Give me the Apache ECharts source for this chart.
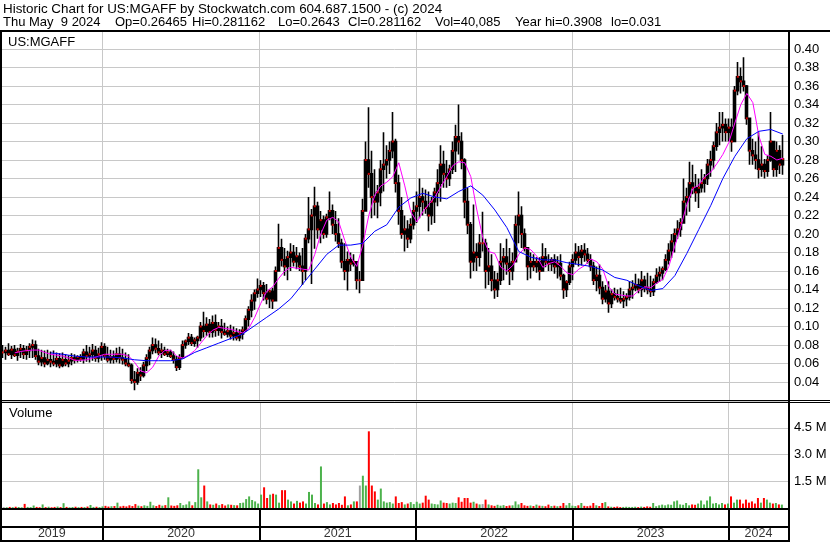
<!DOCTYPE html>
<html><head><meta charset="utf-8">
<script src="https://cdn.jsdelivr.net/npm/echarts@6/dist/echarts.min.js"></script>
<style>html,body{margin:0;padding:0;background:#fff}#c{width:830px;height:543px}</style>
</head><body><div id="c"></div>
<script>
// ---------- data (weekly bars) ----------
const firstWeek = [2019, 4, 13];          // first weekly bar (UTC y, m0, d)
const axisStart = [2019, 4, 9];
const axisEnd = [2024, 4, 18];
const hi = [
.080,.078,.082,.079,.080,.077,.081,.080,.079,.082,
.086,.085,.076,.075,.074,.075,.073,.074,.072,.071,
.072,.070,.069,.071,.070,.069,.070,.076,.080,.078,
.081,.079,.077,.083,.082,.078,.075,.074,.077,.078,
.076,.072,.070,.060,.052,.055,.056,.062,.070,.078,
.088,.087,.085,.082,.078,.076,.075,.073,.068,.070,
.085,.086,.093,.092,.088,.090,.105,.116,.110,.108,
.112,.113,.105,.108,.104,.100,.102,.100,.098,.097,
.100,.112,.122,.135,.140,.152,.150,.148,.146,.140,
.142,.165,.211,.195,.185,.182,.190,.188,.186,.180,
.185,.200,.240,.227,.251,.235,.225,.220,.222,.246,
.232,.225,.217,.195,.190,.181,.180,.178,.167,.160,
.238,.300,.337,.290,.270,.253,.280,.310,.296,.300,
.332,.303,.264,.240,.220,.215,.217,.235,.246,.260,
.250,.248,.246,.240,.250,.270,.296,.290,.280,.275,
.300,.318,.340,.310,.282,.250,.213,.232,.190,.200,
.224,.195,.185,.178,.160,.158,.190,.185,.195,.185,
.180,.220,.246,.230,.206,.181,.180,.178,.175,.175,
.190,.185,.178,.175,.178,.176,.178,.157,.150,.170,
.178,.190,.187,.188,.190,.185,.178,.170,.165,.167,
.149,.145,.149,.140,.142,.140,.142,.138,.136,.149,
.150,.157,.152,.160,.155,.158,.155,.152,.163,.165,
.165,.178,.190,.200,.206,.215,.217,.260,.250,.278,
.275,.265,.260,.270,.265,.281,.290,.300,.320,.332,
.332,.325,.325,.325,.360,.386,.380,.391,.361,.314,
.303,.300,.310,.295,.281,.285,.332,.290,.300,.296,.307];
const lo = [
.066,.064,.068,.065,.067,.063,.066,.065,.064,.066,
.066,.064,.058,.057,.056,.058,.056,.057,.056,.055,
.056,.057,.056,.058,.060,.061,.062,.060,.062,.061,
.063,.062,.061,.063,.064,.061,.060,.060,.061,.060,
.059,.057,.056,.038,.031,.037,.041,.045,.052,.058,
.070,.071,.069,.066,.068,.067,.066,.060,.052,.053,
.066,.076,.080,.079,.078,.077,.084,.088,.090,.088,
.088,.089,.090,.087,.090,.088,.086,.085,.085,.084,
.086,.094,.100,.110,.118,.131,.132,.128,.124,.120,
.119,.135,.160,.165,.155,.150,.160,.165,.162,.160,
.145,.150,.190,.146,.184,.195,.190,.195,.196,.215,
.200,.192,.185,.163,.150,.139,.160,.165,.140,.136,
.160,.230,.250,.217,.220,.217,.230,.246,.260,.265,
.282,.245,.210,.195,.181,.185,.190,.205,.212,.217,
.220,.222,.203,.210,.212,.230,.235,.250,.250,.252,
.265,.267,.286,.270,.217,.200,.152,.160,.160,.165,
.181,.141,.145,.138,.130,.132,.145,.150,.156,.145,
.150,.181,.190,.185,.181,.150,.152,.160,.158,.150,
.163,.164,.160,.160,.157,.152,.150,.130,.132,.145,
.150,.167,.165,.166,.170,.168,.160,.145,.138,.135,
.124,.126,.115,.120,.128,.126,.125,.120,.122,.128,
.130,.138,.136,.132,.137,.135,.132,.133,.146,.148,
.150,.160,.167,.174,.180,.195,.197,.217,.220,.224,
.243,.235,.228,.245,.245,.253,.262,.270,.290,.296,
.300,.300,.300,.289,.300,.350,.352,.354,.318,.275,
.275,.270,.260,.262,.260,.262,.278,.262,.262,.265,.264];
const cl = [
.072,.074,.070,.075,.069,.073,.076,.070,.074,.078,
.080,.068,.062,.066,.060,.064,.062,.060,.065,.058,
.064,.060,.063,.066,.064,.067,.065,.072,.068,.070,
.074,.066,.070,.078,.068,.064,.067,.065,.070,.066,
.064,.060,.058,.042,.040,.050,.047,.058,.066,.074,
.080,.076,.072,.074,.070,.072,.068,.064,.056,.066,
.080,.084,.088,.082,.085,.088,.100,.095,.102,.094,
.104,.096,.100,.094,.092,.095,.090,.093,.088,.092,
.096,.108,.118,.128,.136,.140,.144,.136,.130,.138,
.128,.160,.185,.172,.165,.175,.180,.170,.176,.165,
.160,.195,.205,.220,.230,.205,.215,.200,.218,.225,
.210,.200,.190,.170,.160,.172,.168,.170,.150,.150,
.225,.280,.265,.240,.235,.245,.270,.275,.280,.290,
.300,.255,.225,.200,.205,.195,.210,.225,.230,.240,
.235,.228,.220,.235,.245,.255,.275,.265,.260,.270,
.290,.305,.300,.280,.235,.210,.170,.180,.175,.190,
.190,.160,.165,.150,.140,.150,.170,.175,.168,.160,
.170,.210,.220,.200,.185,.165,.170,.165,.170,.160,
.175,.170,.168,.172,.165,.168,.155,.140,.148,.165,
.172,.180,.175,.182,.178,.172,.165,.150,.155,.142,
.130,.138,.125,.135,.132,.130,.128,.130,.132,.140,
.142,.145,.140,.150,.142,.140,.138,.148,.155,.158,
.162,.172,.182,.192,.200,.205,.212,.235,.240,.255,
.250,.245,.250,.255,.260,.275,.280,.295,.310,.315,
.318,.310,.315,.300,.355,.370,.365,.360,.325,.290,
.285,.280,.270,.275,.268,.280,.300,.270,.290,.275,.281];
// volume, thousands of shares (largest daily bar visible in each week)
const volK = [
50,40,60,45,70,55,40,230,60,50,
140,60,45,200,50,70,40,60,80,50,
270,60,40,55,70,45,60,50,80,170,
60,70,50,90,120,80,100,110,300,90,
120,90,150,110,220,130,100,150,120,350,
150,110,180,130,160,600,140,120,150,280,
160,200,370,150,330,2170,600,1260,370,200,
180,250,160,220,140,200,180,160,150,280,
300,500,650,450,370,250,750,1160,560,750,
800,750,300,1000,1000,470,370,250,400,300,
370,250,900,750,280,200,2330,250,330,200,
280,200,280,180,650,150,200,370,370,1260,
1810,1260,4300,1260,930,470,1090,370,300,330,
250,650,280,330,200,250,330,220,350,250,
300,690,470,250,220,200,420,300,280,250,
300,280,600,350,560,560,300,350,250,200,
220,470,200,150,120,180,130,160,110,140,
150,370,200,280,150,120,140,110,190,130,
120,100,190,110,130,100,120,280,150,280,
130,110,150,280,120,100,130,280,150,110,
280,330,90,70,60,80,50,60,70,60,
60,70,50,80,60,90,70,280,100,150,
190,150,200,180,370,420,200,180,280,150,
200,180,250,420,200,420,650,250,280,200,
280,200,250,650,300,470,470,250,470,300,
370,250,560,300,560,470,300,250,280,200,190];
// magenta average, every 2nd week starting at week 4
const maFast = [
.0715,.073,.074,.0745,.0745,.072,.070,.069,.068,.066,
.0635,.0635,.064,.066,.068,.070,.070,.070,.070,.068,
.061,.052,.050,.056,.068,.074,.0745,.068,.066,.069,
.074,.082,.090,.096,.099,.098,.097,.095,.093,.098,
.110,.125,.138,.143,.152,.160,.164,.163,.162,.161,
.178,.200,.215,.218,.213,.193,.175,.165,.188,.220,
.242,.252,.256,.262,.277,.252,.224,.213,.224,.232,
.240,.251,.262,.274,.278,.277,.262,.226,.196,.181,
.179,.164,.160,.166,.178,.185,.183,.176,.164,.168,
.170,.165,.158,.156,.162,.166,.173,.170,.162,.143,
.135,.134,.133,.133,.139,.143,.142,.147,.151,.165,
.187,.208,.232,.249,.253,.262,.267,.276,.286,.299,
.320,.340,.352,.342,.306,.286,.284,.280,.282];
const maFastStart = 4, maFastStep = 2;
// blue average, every 4th week starting at week 16
const maSlow = [
.0715,.070,.068,.067,.067,.067,.066,.064,.063,.063,
.063,.065,.072,.077,.082,.087,.092,.101,.110,.119,
.130,.146,.162,.178,.188,.188,.190,.203,.210,.229,
.239,.244,.240,.238,.246,.252,.242,.226,.207,.181,
.175,.172,.172,.169,.167,.165,.161,.153,.150,.144,
.139,.141,.155,.179,.205,.231,.260,.284,.303,.311,
.313,.308];
const maSlowStart = 16, maSlowStep = 4;
const yearStarts = [[2020,0,1],[2021,0,1],[2022,0,1],[2023,0,1],[2024,0,1]];
const yearLabels = ['2019','2020','2021','2022','2023','2024'];
const volTickLabels = ['1.5 M','3.0 M','4.5 M'];

// ---------- build ----------
const DAY = 86400000;
const T = a => Date.UTC(a[0], a[1], a[2]);
const t0 = T(firstWeek), tMin = T(axisStart), tMax = T(axisEnd);
const dates = hi.map((_, i) => t0 + i * 7 * DAY);
const opens = cl.map((c, i) => i === 0 ? c : cl[i - 1]);
const candle = dates.map((t, i) => [t, opens[i], cl[i], lo[i], hi[i]]);
const closes = dates.map((t, i) => [t, cl[i]]);
const fastLine = maFast.map((v, k) => [dates[maFastStart + k * maFastStep], v]);
const slowLine = maSlow.map((v, k) => [dates[maSlowStart + k * maSlowStep], v]);
const volData = dates.map((t, i) => ({
  value: [t, volK[i] * 1000],
  itemStyle: { color: cl[i] > opens[i] ? '#4cb24c' : (cl[i] < opens[i] ? '#ff0000' : '#a0a0a0') }
}));
const ys = yearStarts.map(T);
const bounds = [tMin].concat(ys).concat([tMax]);
const yearPts = yearLabels.map((y, k) => [(bounds[k] + bounds[k + 1]) / 2, 0.22]);

const FONT = '"Liberation Sans", Arial, sans-serif';
const grayLine = { color: '#c8c8c8', width: 1, type: 'solid' };
const vLines = ys.map(t => ({ xAxis: t }));
const xBase = { type: 'time', min: tMin, max: tMax, axisLine: { show: false }, axisTick: { show: false },
  axisLabel: { show: false }, splitLine: { show: false } };

const chart = echarts.init(document.getElementById('c'), null, { renderer: 'canvas' });
const rect = (x, y, w, h) => ({ type: 'rect', shape: { x, y, width: w, height: h }, style: { fill: '#000' }, z: 100, silent: true });
const txt = (s, x, y, fs) => ({ type: 'text', x: x, y: y, z: 101, silent: true,
  style: { text: s, font: (fs || 13) + 'px ' + FONT, fill: '#000', textAlign: 'left', textVerticalAlign: 'middle', align: 'left', verticalAlign: 'middle' } });

chart.setOption({
  animation: false,
  backgroundColor: '#fff',
  grid: [
    { left: 1, right: 42, top: 30.5, height: 370 },
    { left: 1, right: 42, top: 401, height: 107 },
    { left: 1, right: 42, top: 509, height: 32 }
  ],
  xAxis: [ Object.assign({ gridIndex: 0 }, xBase), Object.assign({ gridIndex: 1 }, xBase), Object.assign({ gridIndex: 2 }, xBase) ],
  yAxis: [
    { gridIndex: 0, type: 'value', position: 'right', min: 0.02, max: 0.42, interval: 0.02,
      axisLine: { show: false }, axisTick: { show: false }, splitLine: { show: true, lineStyle: grayLine },
      axisLabel: { margin: 6, color: '#000', fontFamily: FONT, fontSize: 13,
        formatter: v => (v < 0.03 || v > 0.41) ? '' : v.toFixed(2) } },
    { gridIndex: 1, type: 'value', position: 'right', min: 0, max: 6000000, interval: 1500000,
      axisLine: { show: false }, axisTick: { show: false }, splitLine: { show: true, lineStyle: grayLine },
      axisLabel: { margin: 6, color: '#000', fontFamily: FONT, fontSize: 13,
        formatter: v => { const k = Math.round(v / 1500000); return (k >= 1 && k <= 3) ? volTickLabels[k - 1] : ''; } } },
    { gridIndex: 2, type: 'value', min: 0, max: 1, show: false }
  ],
  series: [
    { type: 'candlestick', xAxisIndex: 0, yAxisIndex: 0, data: candle, encode: { x: 0, y: [1, 2, 3, 4] },
      barWidth: 2.5, itemStyle: { color: '#000', color0: '#000', borderColor: '#000', borderColor0: '#000', borderWidth: 1.6 },
      markLine: { silent: true, z: 1, symbol: ['none', 'none'], label: { show: false }, lineStyle: grayLine, data: vLines } },
    { type: 'scatter', xAxisIndex: 0, yAxisIndex: 0, data: closes, symbol: 'rect', symbolSize: 2,
      itemStyle: { color: '#ff0000' }, z: 3 },
    { type: 'line', xAxisIndex: 0, yAxisIndex: 0, data: fastLine, showSymbol: false, symbol: 'none',
      lineStyle: { color: '#ff00ff', width: 1 }, z: 4 },
    { type: 'line', xAxisIndex: 0, yAxisIndex: 0, data: slowLine, showSymbol: false, symbol: 'none',
      lineStyle: { color: '#0000ff', width: 1 }, z: 4 },
    { type: 'bar', xAxisIndex: 1, yAxisIndex: 1, data: volData, barWidth: 2, barGap: '-100%',
      markLine: { silent: true, z: 1, symbol: ['none', 'none'], label: { show: false }, lineStyle: grayLine, data: vLines } },
    { type: 'scatter', xAxisIndex: 2, yAxisIndex: 2, data: yearPts, symbolSize: 1, itemStyle: { color: 'rgba(0,0,0,0)' },
      label: { show: true, position: 'inside', color: '#000', fontFamily: FONT, fontSize: 12.5,
        formatter: p => yearLabels[p.dataIndex] },
      markLine: { silent: true, symbol: ['none', 'none'], label: { show: false },
        lineStyle: { color: '#000', width: 2, type: 'solid' }, data: vLines } }
  ],
  graphic: [
    txt('Historic Chart for US:MGAFF by Stockwatch.com 604.687.1500 - (c) 2024', 3, 9, 13.4),
    txt('Thu May  9 2024', 3, 22.5),
    txt('Op=0.26465', 115, 22.5),
    txt('Hi=0.281162', 192, 22.5),
    txt('Lo=0.2643', 278, 22.5),
    txt('Cl=0.281162', 348, 22.5),
    txt('Vol=40,085', 435, 22.5),
    txt('Year hi=0.3908', 515, 22.5),
    txt('lo=0.031', 611, 22.5),
    txt('US:MGAFF', 8, 42),
    txt('Volume', 9, 413),
    rect(0, 30, 830, 2),
    rect(0, 30, 2, 512),
    rect(788, 30, 2, 512),
    rect(0, 400, 830, 1),
    rect(0, 402, 830, 1),
    rect(0, 508, 790, 2),
    rect(0, 526, 790, 2),
    rect(0, 540, 790, 2)
  ]
});
</script></body></html>
